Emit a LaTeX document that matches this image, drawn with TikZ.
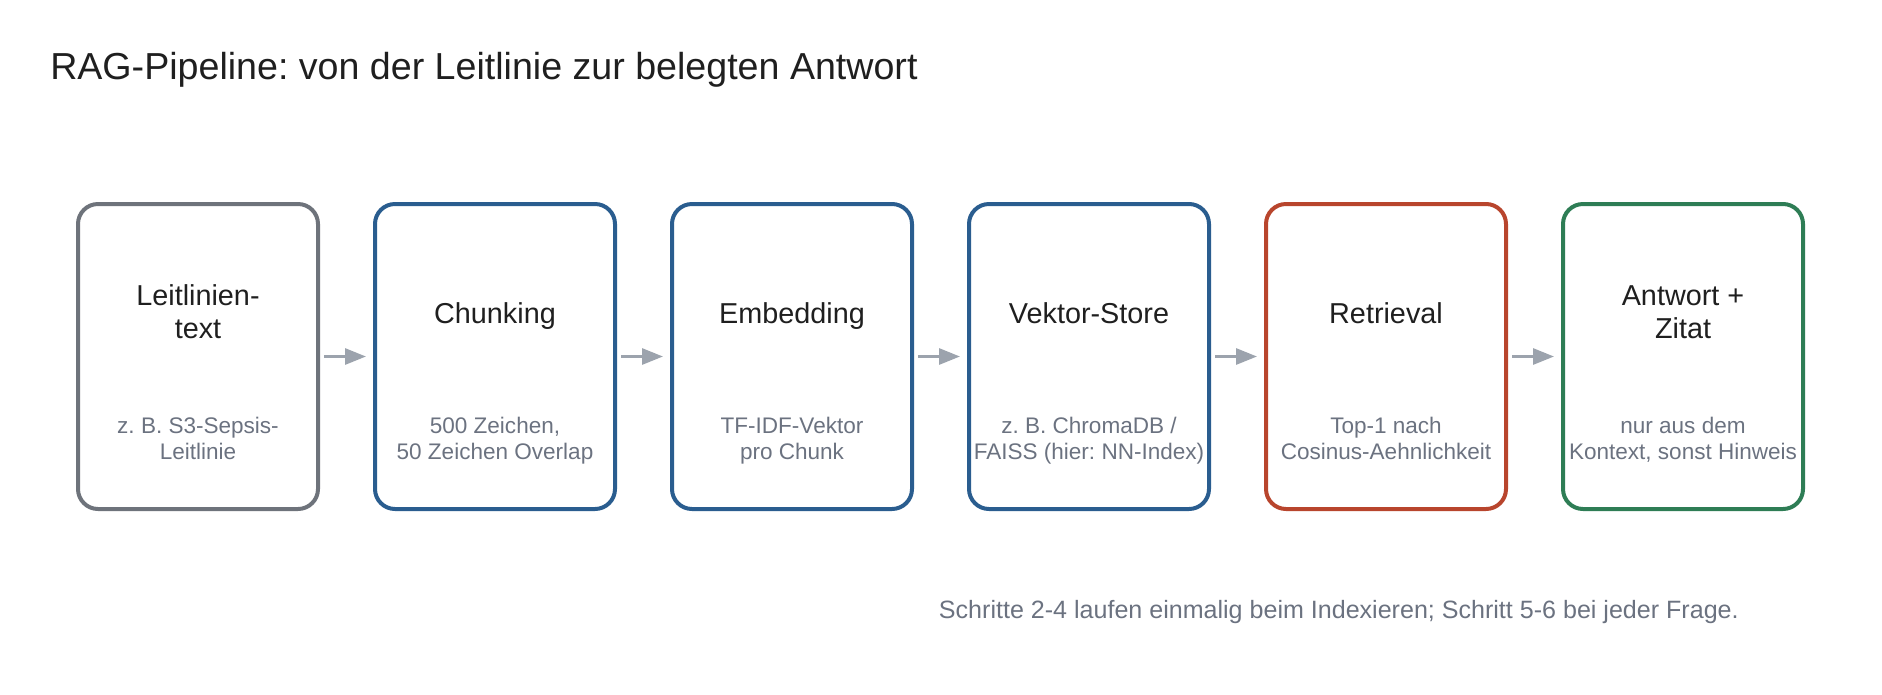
\documentclass[tikz,border=0pt]{standalone}
\usepackage{fontspec}
\setmainfont{Liberation Sans}
\frenchspacing
\usetikzlibrary{arrows.meta}
\definecolor{srcgray}{HTML}{6E737B}
\definecolor{idxblue}{HTML}{2A5D8F}
\definecolor{qryred}{HTML}{B8452D}
\definecolor{ansgreen}{HTML}{2E7D55}
\definecolor{arrgray}{HTML}{9CA3AD}
\definecolor{notegray}{HTML}{6B7280}
\definecolor{headblack}{HTML}{1F1F1F}
\tikzstyle{stage} = [rectangle, draw, line width=3pt, rounded corners=15pt, minimum width=180pt,
minimum height=228.75pt, node distance=222.75pt]
\tikzstyle{head} = [text=headblack, align=center, font=\fontsize{21.6}{24.75}\selectfont,
execute at begin node=\strut, execute at end node=\strut]
\tikzstyle{note} = [text=notegray, align=center, font=\fontsize{16.9}{19.5}\selectfont,
execute at begin node=\strut, execute at end node=\strut]
\tikzstyle{line} = [draw=arrgray, line width=2.25pt, -{Triangle[length=15.75pt,width=12pt]},
shorten <=3pt, shorten >=5.25pt]

\begin{document}
\begin{tikzpicture}[x=0.75pt, y=-0.75pt]
		\useasboundingbox (0,0) rectangle (1882,694);
		\node [anchor=base west, inner sep=0pt, text=headblack, font=\fontsize{28.2}{32}\selectfont] (title)
		at (50,79) {RAG-Pipeline: von der Leitlinie zur belegten Antwort};
		\node [stage, draw=srcgray] (source) at (198,356.5) {};
		\node [stage, draw=idxblue, right of=source] (chunk) {};
		\node [stage, draw=idxblue, right of=chunk] (embed) {};
		\node [stage, draw=idxblue, right of=embed] (store) {};
		\node [stage, draw=qryred, right of=store] (retr) {};
		\node [stage, draw=ansgreen, right of=retr] (answer) {};
		\node [head] (source-h) at ([yshift=29.9pt]source.center) {Leitlinien-\\text};
		\node [head] (chunk-h) at ([yshift=29.9pt]chunk.center) {Chunking};
		\node [head] (embed-h) at ([yshift=29.9pt]embed.center) {Embedding};
		\node [head] (store-h) at ([yshift=29.9pt]store.center) {Vektor-Store};
		\node [head] (retr-h) at ([yshift=29.9pt]retr.center) {Retrieval};
		\node [head] (answer-h) at ([yshift=29.9pt]answer.center) {Antwort +\\Zitat};
		\node [note] (source-n) at ([yshift=-64.6pt]source.center) {z. B. S3-Sepsis-\\Leitlinie};
		\node [note] (chunk-n) at ([yshift=-64.6pt]chunk.center) {500 Zeichen,\\50 Zeichen Overlap};
		\node [note] (embed-n) at ([yshift=-64.6pt]embed.center) {TF-IDF-Vektor\\pro Chunk};
		\node [note] (store-n) at ([yshift=-64.6pt]store.center) {z. B. ChromaDB /\\FAISS (hier: NN-Index)};
		\node [note] (retr-n) at ([yshift=-64.6pt]retr.center) {Top-1 nach\\Cosinus-Aehnlichkeit};
		\node [note] (answer-n) at ([yshift=-64.6pt]answer.center) {nur aus dem\\Kontext, sonst Hinweis};
		\node [text=notegray, anchor=east, inner sep=0pt, font=\fontsize{18.8}{22}\selectfont] (footer)
		at (1739,612) {Schritte 2-4 laufen einmalig beim Indexieren; Schritt 5-6 bei jeder Frage.};
		\path [line] (source) -- (chunk);
		\path [line] (chunk) -- (embed);
		\path [line] (embed) -- (store);
		\path [line] (store) -- (retr);
		\path [line] (retr) -- (answer);
	\end{tikzpicture}
\end{document}
